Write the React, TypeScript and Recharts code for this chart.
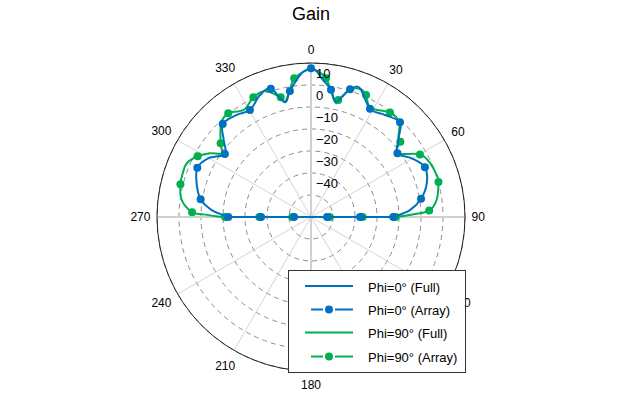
import React from "react";
import { RadarChart, Radar, PolarGrid, PolarAngleAxis, PolarRadiusAxis } from "recharts";

const W = 624;
const H = 398;
const CX = 311;
const CY = 217;
const OUTER = 154;
const FONT = "'Liberation Sans', Arial, sans-serif";

const BLUE = "#0070C0";
const GREEN = "#00B050";

// angles in degrees (0 = top, clockwise), gain in dB
const phi0FullAngle = [270, 274, 279.1, 286.4, 293.4, 299.7, 306.2, 311.4, 316.5, 324, 330.3, 337.3, 342.6, 347.2, 350.5, 355.6, 358, 0, 2, 4.4, 8.95, 12.2, 17, 20.8, 28.6, 36, 43.2, 47.6, 53.6, 59.8, 66.4, 73.8, 80.6, 86, 90];
const phi0FullGain = [-22.4, -14.8, -9.2, -5.8, -3.7, -6.2, -11.5, -7.1, -1.7, -2.6, -4, 0.1, 1.1, -6.5, -1.9, 4.7, 6.7, 7.6, 6.5, 3.2, -1.5, -6.4, 0.7, 2.6, -4, -2.7, -0.9, -5.9, -11.2, -7, -3.5, -5.2, -9.3, -14.9, -22.6];

const phi0ArrayAngle = [270, 279.1, 293.4, 306.2, 316.5, 330.3, 342.6, 350.5, 0, 8.95, 17, 28.6, 43.2, 53.6, 66.4, 80.6, 90, 90, 90, 270, 270];
const phi0ArrayGain = [-22.4, -9.2, -3.7, -11.5, -1.7, -4, 1.1, -1.9, 7.6, -1.5, 0.7, -4, -0.9, -11.2, -3.5, -9.3, -22.6, -37.7, -52.7, -52.3, -37.3];

const phi90FullAngle = [270, 271.4, 272.3, 277.5, 284.1, 289, 293.4, 298.2, 302.2, 305.5, 309.2, 316.2, 321.4, 328, 334.3, 340, 345.8, 347.3, 350.5, 353.1, 358, 0, 2, 6.2, 11.8, 13.1, 17, 21, 24.3, 28.6, 37.1, 43, 47.6, 49.9, 53.4, 60.1, 65.7, 71.5, 74.6, 82.3, 86.9, 88.3, 90];
const phi90FullGain = [-19.4, -11, -5.9, -0.7, 1.2, 1.6, 1.5, -1.6, -5.7, -10.1, -7, -1, 0.3, -2.5, 0.4, 1, -3.9, -6.4, -1.5, 3.5, 6.7, 7.6, 6.5, 3.4, -6.5, -5.4, 0.5, 2.4, 0.8, -3.5, -0.5, -1.2, -6.2, -6.9, -11.4, -2.9, -0.6, 0.2, 0.1, -2.4, -6.2, -12.7, -21];

const phi90ArrayAngle = [270, 272.3, 284.1, 298.2, 309.2, 321.4, 334.3, 345.8, 353.1, 6.2, 13.1, 24.3, 37.1, 49.9, 60.1, 74.6, 86.9, 90, 90, 90, 270, 270];
const phi90ArrayGain = [-21, -5.9, 1.2, -1.6, -7, 0.3, 0.4, -3.9, 3.5, 3.4, -5.4, 0.8, -0.5, -6.9, -2.9, 0.1, -6.2, -21.5, -36.5, -51.5, -51.5, -36.5];

const radiusLabels = [10, 0, -10, -20, -30, -40];
const seriesNames = ["Phi=0° (Full)", "Phi=0° (Array)", "Phi=90° (Full)", "Phi=90° (Array)"];
const seriesColors = [BLUE, BLUE, GREEN, GREEN];
const seriesDashed = [false, true, false, true];

const rows = (angles: number[], gains: number[]) => angles.map((angle, i) => ({ angle, gain: gains[i] }));

const phi0Full = rows(phi0FullAngle, phi0FullGain);
const phi0Array = rows(phi0ArrayAngle, phi0ArrayGain);
const phi90Full = rows(phi90FullAngle, phi90FullGain);
const phi90Array = rows(phi90ArrayAngle, phi90ArrayGain);

const layer: React.CSSProperties = { position: "absolute", left: 0, top: 0 };
const noMargin = { top: 0, right: 0, bottom: 0, left: 0 };

// catmull-rom through the radar points, closing segment stays straight
function smoothPath(pts: { x: number; y: number }[]) {
  if (!pts.length) return "";
  let d = `M${pts[0].x},${pts[0].y}`;
  for (let i = 0; i < pts.length - 1; i++) {
    const p0 = pts[Math.max(i - 1, 0)];
    const p1 = pts[i];
    const p2 = pts[i + 1];
    const p3 = pts[Math.min(i + 2, pts.length - 1)];
    const c1x = p1.x + (p2.x - p0.x) / 6;
    const c1y = p1.y + (p2.y - p0.y) / 6;
    const c2x = p2.x - (p3.x - p1.x) / 6;
    const c2y = p2.y - (p3.y - p1.y) / 6;
    d += `C${c1x},${c1y},${c2x},${c2y},${p2.x},${p2.y}`;
  }
  return d + "Z";
}

const smoothShape = (props: any) => (
  <path
    d={smoothPath(props.points || [])}
    fill="none"
    stroke={props.stroke}
    strokeWidth={props.strokeWidth}
    strokeLinejoin="round"
  />
);

const renderAngleTick = (props: any) => {
  const { x, y, payload } = props;
  if (payload.value === 360) return <g />;
  const dx = x - CX;
  const dy = y - CY;
  const d = Math.hypot(dx, dy) || 1;
  const ux = dx / d;
  const uy = dy / d;
  const w = String(payload.value).length * 6.7;
  const r = 160.5 + (Math.abs(ux) * w) / 2 + Math.abs(uy) * 7;
  return (
    <text
      x={CX + ux * r}
      y={CY + uy * r}
      textAnchor="middle"
      dominantBaseline="central"
      fontSize={12}
      fontFamily={FONT}
      fill="#000"
    >
      {payload.value}
    </text>
  );
};

const renderRadiusTick = (props: any) => {
  const { x, y, payload } = props;
  if (!radiusLabels.includes(payload.value)) return <g />;
  return (
    <text x={x + 5} y={y + 15} fontSize={13} fontFamily={FONT} fill="#000">
      {String(payload.value).replace("-", "\u2212")}
    </text>
  );
};

function angleAxis(visible: boolean) {
  return (
    <PolarAngleAxis
      dataKey="angle"
      type="number"
      domain={[0, 360]}
      allowDataOverflow
      tickCount={13}
      axisLineType="circle"
      axisLine={visible ? { stroke: "#222", strokeWidth: 1 } : false}
      tickLine={false}
      tick={visible ? renderAngleTick : false}
    />
  );
}

function radiusAxis(labels: boolean) {
  return (
    <PolarRadiusAxis
      angle={90}
      type="number"
      domain={[-60, 10]}
      allowDataOverflow
      tickCount={8}
      axisLine={false}
      tick={labels ? renderRadiusTick : false}
    />
  );
}

// invisible series so the axes get a scale in the layers without marks
const ghost = <Radar dataKey="gain" fill="none" stroke="none" dot={false} isAnimationActive={false} />;

function SeriesLayer({ data, color, array }: { data: { angle: number; gain: number }[]; color: string; array: boolean }) {
  return (
    <div style={layer}>
      <RadarChart width={W} height={H} cx={CX} cy={CY} outerRadius={OUTER} data={data} margin={noMargin}>
        {angleAxis(false)}
        {radiusAxis(false)}
        <Radar
          dataKey="gain"
          fill="none"
          stroke={array ? "none" : color}
          strokeWidth={2}
          shape={array ? undefined : smoothShape}
          dot={array ? { r: 4, fill: color, stroke: "none" } : false}
          isAnimationActive={false}
        />
      </RadarChart>
    </div>
  );
}

export default function App() {
  return (
    <div style={{ ...layer, width: W, height: H, background: "#fff" }}>
      <div style={layer}>
        <RadarChart width={W} height={H} cx={CX} cy={CY} outerRadius={OUTER} data={phi0Full} margin={noMargin}>
          <PolarGrid gridType="circle" radialLines={false} stroke="#8c8c8c" strokeDasharray="5 4" />
          <PolarGrid gridType="circle" polarRadius={[]} stroke="#d4d4d4" />
          <PolarGrid gridType="circle" polarRadius={[]} polarAngles={[0, 90, 180, 270]} stroke="#d0d0d0" strokeWidth={2} />
          {angleAxis(true)}
          {radiusAxis(false)}
          {ghost}
        </RadarChart>
      </div>
      <SeriesLayer data={phi90Full} color={GREEN} array={false} />
      <SeriesLayer data={phi90Array} color={GREEN} array={true} />
      <SeriesLayer data={phi0Full} color={BLUE} array={false} />
      <SeriesLayer data={phi0Array} color={BLUE} array={true} />
      <div style={layer}>
        <RadarChart width={W} height={H} cx={CX} cy={CY} outerRadius={OUTER} data={phi0Full} margin={noMargin}>
          {angleAxis(false)}
          {radiusAxis(true)}
          {ghost}
        </RadarChart>
      </div>
      <svg width={W} height={H} style={{ ...layer, pointerEvents: "none" }}>
        <text x={CX} y={20} textAnchor="middle" fontSize={18} fontFamily={FONT} fill="#000">
          Gain
        </text>
        <rect x={288.5} y={270.5} width={177} height={102} fill="#fff" stroke="#333" strokeWidth={1} />
        {seriesNames.map((name, i) => {
          const y = [286, 309.5, 332.5, 356.5][i];
          const c = seriesColors[i];
          return (
            <g key={name}>
              {seriesDashed[i] ? (
                <>
                  <line x1={311} x2={323} y1={y} y2={y} stroke={c} strokeWidth={2} />
                  <line x1={335} x2={353} y1={y} y2={y} stroke={c} strokeWidth={2} />
                  <circle cx={329} cy={y} r={4} fill={c} />
                </>
              ) : (
                <line x1={305} x2={353} y1={y} y2={y} stroke={c} strokeWidth={2} />
              )}
              <text x={368} y={y + 1} dominantBaseline="central" fontSize={13} fontFamily={FONT} fill="#000">
                {name}
              </text>
            </g>
          );
        })}
      </svg>
    </div>
  );
}
